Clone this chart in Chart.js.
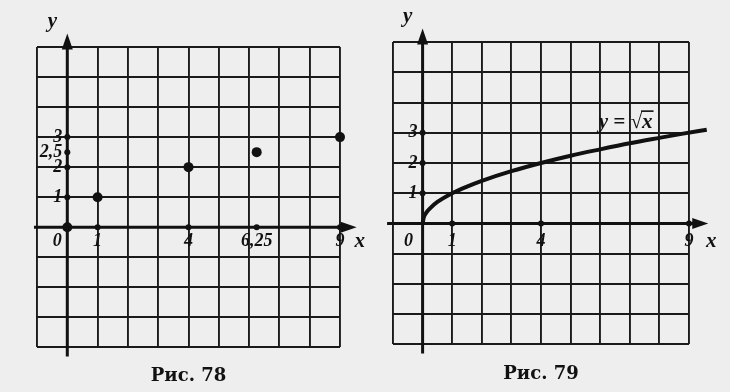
<!DOCTYPE html>
<html>
<head>
<meta charset="utf-8">
<script src="https://cdn.jsdelivr.net/npm/chart.js@4.4.1/dist/chart.umd.min.js"></script>
<style>
  html, body { margin: 0; padding: 0; background: #eeeeee; }
  #wrap { position: relative; width: 730px; height: 392px; overflow: hidden; }
  .fig { position: absolute; top: 0; width: 365px; height: 392px; }
</style>
</head>
<body>
<div id="wrap">
  <div class="fig" style="left:0"><canvas id="fig78" width="365" height="392"></canvas></div>
  <div class="fig" style="left:365px"><canvas id="fig79" width="365" height="392"></canvas></div>
</div>
<script>
// Рис. 78 - separate points of y = sqrt(x)
const pointsX78 = [0, 1, 4, 6.25, 9];
const pointsY78 = [0, 1, 2, 2.5, 3];
const xTicks78 = [1, 4, 6.25, 9];
const xTickLabels78 = ['1', '4', '6,25', '9'];
const yTicks78 = [1, 2, 2.5, 3];
const yTickLabels78 = ['1', '2', '2,5', '3'];

// Рис. 79 - the curve y = sqrt(x)
const curveX79 = [0, 0.04, 0.12, 0.25, 0.5, 1, 1.5, 2, 3, 4, 5, 6, 7, 8, 8.8, 9.6];
const curveY79 = [0, 0.2, 0.35, 0.5, 0.71, 1, 1.22, 1.41, 1.73, 2, 2.24, 2.45, 2.65, 2.83, 2.97, 3.1];
const xTicks79 = [1, 4, 9];
const xTickLabels79 = ['1', '4', '9'];
const yTicks79 = [1, 2, 3];
const yTickLabels79 = ['1', '2', '3'];
const curveLabel79 = 'y = √x';

const INK = '#111111';
const tickFont = 'italic bold 18px "Liberation Serif"';
const nameFont = 'italic bold 21px "Liberation Serif"';
const labelFont = 'italic bold 21px "Liberation Serif"';

const toPoints = (xs, ys) => xs.map((x, i) => ({x: x, y: ys[i]}));
const axisMarks = (xt, yt) => xt.map(v => ({x: v, y: 0})).concat(yt.map(v => ({x: 0, y: v})));

// arrows, tick labels and axis names drawn through the chart scales
const mathAxes = {
    id: 'mathAxes',
    beforeDatasetsDraw(chart, args, o) {
        const {ctx, scales: {x, y}} = chart;
        const ox = x.getPixelForValue(0), oy = y.getPixelForValue(0);
        const xl = x.getPixelForValue(o.xFrom), xr = x.getPixelForValue(o.xTo);
        const yb = y.getPixelForValue(o.yFrom), yt = y.getPixelForValue(o.yTo);
        ctx.save();
        ctx.strokeStyle = INK;
        ctx.fillStyle = INK;
        ctx.lineWidth = 3;
        ctx.beginPath();
        ctx.moveTo(xl, oy); ctx.lineTo(xr - 8, oy);
        ctx.moveTo(ox, yb); ctx.lineTo(ox, yt + 8);
        ctx.stroke();
        ctx.beginPath();
        ctx.moveTo(xr, oy); ctx.lineTo(xr - 16, oy - 5.5); ctx.lineTo(xr - 16, oy + 5.5); ctx.closePath();
        ctx.moveTo(ox, yt); ctx.lineTo(ox - 5.5, yt + 16); ctx.lineTo(ox + 5.5, yt + 16); ctx.closePath();
        ctx.fill();
        ctx.restore();
    },
    afterDraw(chart, args, o) {
        const {ctx, scales: {x, y}} = chart;
        const ox = x.getPixelForValue(0), oy = y.getPixelForValue(0);
        const xr = x.getPixelForValue(o.xTo), yt = y.getPixelForValue(o.yTo);
        ctx.save();
        ctx.fillStyle = INK;
        ctx.font = tickFont;
        ctx.textBaseline = 'middle';
        ctx.textAlign = 'center';
        o.xTicks.forEach((v, i) => ctx.fillText(o.xLabels[i], x.getPixelForValue(v), oy + o.xDy));
        ctx.fillText('0', ox - o.zeroDx, oy + o.xDy);
        ctx.textAlign = 'right';
        o.yTicks.forEach((v, i) => ctx.fillText(o.yLabels[i], ox - 5, y.getPixelForValue(v)));
        ctx.font = nameFont;
        ctx.textAlign = 'center';
        ctx.fillText('x', xr + 3, oy + o.xDy);
        ctx.fillText('y', ox - 15, yt - 12);
        if (o.curveLabel) {
            const tx = x.getPixelForValue(o.curveLabelAt[0]);
            const ty = y.getPixelForValue(o.curveLabelAt[1]);
            ctx.font = labelFont;
            ctx.textAlign = 'left';
            ctx.fillText(o.curveLabel, tx, ty);
            const wPre = ctx.measureText(o.curveLabel.slice(0, -1)).width;
            const wAll = ctx.measureText(o.curveLabel).width;
            ctx.strokeStyle = INK;
            ctx.lineWidth = 1.6;
            ctx.beginPath();
            ctx.moveTo(tx + wPre - 1, ty - 11);
            ctx.lineTo(tx + wAll + 1, ty - 11);
            ctx.stroke();
        }
        ctx.restore();
    }
};

const gridScale = (min, max) => ({
    type: 'linear',
    min: min,
    max: max,
    ticks: {display: false, stepSize: 1},
    grid: {color: '#1a1a1a', lineWidth: 1.9, drawTicks: false},
    border: {display: false}
});

const makeChart = (id, datasets, caption, padding, titlePad, axisOpts) => {
    const ctx = document.getElementById(id).getContext('2d');
    return new Chart(ctx, {
        type: 'scatter',
        data: {datasets: datasets},
        options: {
            responsive: false,
            animation: false,
            devicePixelRatio: 1,
            layout: {padding: padding},
            scales: {x: gridScale(-1, 9), y: gridScale(-4, 6)},
            plugins: {
                legend: {display: false},
                tooltip: {enabled: false},
                title: {
                    display: true,
                    position: 'bottom',
                    text: caption,
                    color: INK,
                    font: {family: 'DejaVu Serif', weight: 'bold', size: 18},
                    padding: titlePad
                },
                mathAxes: axisOpts
            }
        },
        plugins: [mathAxes]
    });
};

makeChart('fig78', [
    {
        data: toPoints(pointsX78, pointsY78),
        pointRadius: 5,
        backgroundColor: INK,
        borderWidth: 0,
        clip: false
    },
    {
        data: axisMarks(xTicks78, yTicks78),
        pointRadius: 3,
        backgroundColor: INK,
        borderWidth: 0,
        clip: false
    }
], 'Рис. 78', {left: 37, right: 25, top: 47, bottom: 0}, {top: 18, bottom: 5}, {
    xFrom: -1.1, xTo: 9.55, yFrom: -4.3, yTo: 6.45,
    xTicks: xTicks78, xLabels: xTickLabels78,
    yTicks: yTicks78, yLabels: yTickLabels78,
    xDy: 14, zeroDx: 10
});

makeChart('fig79', [
    {
        data: toPoints(curveX79, curveY79),
        showLine: true,
        borderColor: INK,
        borderWidth: 4,
        pointRadius: 0,
        cubicInterpolationMode: 'monotone',
        clip: false
    },
    {
        data: axisMarks(xTicks79, yTicks79),
        pointRadius: 3,
        backgroundColor: INK,
        borderWidth: 0,
        clip: false
    }
], 'Рис. 79', {left: 28, right: 41, top: 42, bottom: 0}, {top: 19, bottom: 7}, {
    xFrom: -1.2, xTo: 9.65, yFrom: -4.3, yTo: 6.45,
    xTicks: xTicks79, xLabels: xTickLabels79,
    yTicks: yTicks79, yLabels: yTickLabels79,
    xDy: 18, zeroDx: 14,
    curveLabel: curveLabel79, curveLabelAt: [5.95, 3.35]
});
</script>
</body>
</html>
